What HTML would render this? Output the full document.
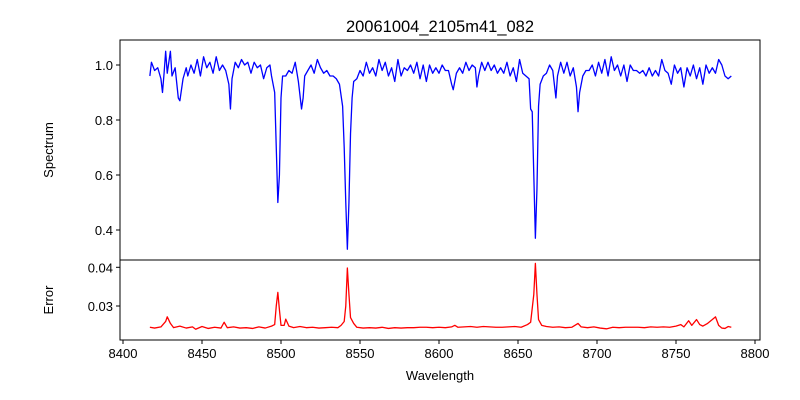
<!DOCTYPE html>
<html><head><meta charset="utf-8"><style>
html,body{margin:0;background:#fff;overflow:hidden;width:800px;height:400px}
svg{font-family:"Liberation Sans","DejaVu Sans",sans-serif;display:block}
</style></head><body>
<svg id="chart" width="800" height="400"></svg>
<script>
const specWl=[8417,8418,8420,8422,8424,8425,8426,8427,8428,8430,8431,8433,8435,8436,8438,8440,8441,8443,8445,8447,8449,8451,8453,8455,8457,8459,8461,8463,8465,8467,8468,8469,8471,8473,8475,8477,8479,8481,8483,8485,8487,8489,8491,8493,8494,8496,8497,8498,8499,8500,8501,8503,8505,8507,8509,8511,8513,8514,8515,8517,8519,8521,8523,8525,8527,8529,8531,8533,8535,8537,8539,8540,8541,8542,8543,8544,8545,8546,8548,8550,8552,8554,8556,8558,8560,8562,8564,8566,8568,8570,8572,8574,8576,8578,8580,8582,8584,8586,8588,8590,8592,8594,8596,8598,8600,8602,8604,8606,8608,8609,8611,8613,8615,8617,8619,8621,8623,8624,8625,8627,8629,8631,8633,8635,8637,8639,8641,8643,8645,8647,8649,8651,8653,8655,8657,8658,8659,8660,8661,8662,8663,8664,8666,8668,8670,8672,8674,8675,8677,8679,8681,8683,8685,8687,8688,8689,8691,8693,8695,8697,8699,8701,8703,8705,8707,8709,8711,8713,8715,8717,8719,8721,8723,8725,8727,8729,8731,8733,8735,8737,8739,8741,8743,8745,8747,8749,8751,8753,8755,8757,8759,8761,8763,8765,8767,8769,8771,8773,8775,8777,8779,8781,8783,8785];
const specFlux=[0.96,1.01,0.98,0.99,0.95,0.90,0.97,1.05,0.97,1.05,0.96,0.99,0.88,0.87,0.95,0.99,0.96,1.00,0.97,1.02,0.96,1.03,0.99,1.01,0.97,1.03,0.98,1.00,0.98,0.93,0.84,0.95,1.01,0.99,1.02,1.00,1.01,0.97,1.01,0.99,1.00,0.95,0.99,1.00,0.96,0.90,0.70,0.50,0.60,0.88,0.96,0.96,0.98,0.97,1.01,0.94,0.84,0.88,0.96,0.98,1.00,0.97,1.02,0.99,0.97,0.98,0.96,0.96,0.95,0.93,0.85,0.70,0.50,0.33,0.50,0.75,0.88,0.94,0.95,0.98,0.96,1.01,0.97,0.99,0.96,1.02,0.98,1.01,0.96,0.99,0.94,1.02,0.96,0.99,0.98,1.00,0.97,1.01,0.95,1.00,0.94,1.00,0.97,0.99,0.97,1.00,0.98,0.98,0.93,0.91,0.97,0.99,0.97,1.01,0.98,1.00,0.99,0.92,0.96,1.01,0.98,1.01,0.98,1.00,0.97,0.99,0.97,1.01,0.96,0.99,0.94,1.02,0.97,0.96,0.95,0.84,0.83,0.60,0.37,0.55,0.85,0.93,0.96,0.97,1.00,0.98,0.88,0.96,1.01,0.97,1.01,0.96,0.99,0.92,0.83,0.90,0.96,0.98,0.98,1.00,0.96,1.01,0.97,1.02,0.96,1.03,0.98,1.00,0.96,1.00,0.94,1.00,0.98,0.98,0.97,0.98,0.96,0.99,0.96,0.98,0.96,1.02,0.98,0.97,0.93,1.00,0.97,0.99,0.92,0.99,0.96,1.00,0.95,0.99,0.93,1.00,0.97,0.99,0.97,1.02,1.00,0.96,0.95,0.96];
const errWl=[8417,8420,8424,8427,8428,8430,8432,8436,8440,8444,8446,8450,8454,8458,8462,8464,8466,8470,8474,8478,8482,8486,8490,8494,8496,8497,8498,8499,8500,8502,8503,8505,8508,8512,8516,8520,8524,8528,8532,8536,8538,8540,8541,8542,8543,8544,8546,8548,8552,8556,8560,8564,8568,8572,8576,8580,8584,8588,8592,8596,8600,8604,8608,8610,8612,8616,8620,8624,8628,8632,8636,8640,8644,8648,8652,8656,8658,8660,8661,8662,8663,8665,8668,8672,8676,8680,8684,8688,8690,8694,8698,8702,8706,8710,8714,8718,8722,8726,8730,8734,8738,8742,8746,8750,8753,8755,8758,8760,8763,8765,8767,8770,8773,8775,8777,8779,8781,8783,8785];
const errVal=[.0245,.0243,.0246,.0260,.0272,.0255,.0244,.0248,.0243,.0246,.0240,.0247,.0242,.0245,.0243,.0258,.0244,.0246,.0243,.0244,.0242,.0246,.0243,.0248,.0252,.0300,.0335,.0290,.0250,.0250,.0266,.0248,.0244,.0247,.0244,.0245,.0243,.0244,.0245,.0244,.0250,.0260,.0300,.0398,.0330,.0270,.0255,.0245,.0243,.0244,.0243,.0245,.0242,.0244,.0243,.0244,.0244,.0245,.0245,.0244,.0245,.0244,.0246,.0250,.0245,.0246,.0247,.0245,.0247,.0246,.0245,.0245,.0246,.0247,.0245,.0252,.0258,.0330,.0410,.0330,.0265,.0250,.0247,.0245,.0246,.0244,.0245,.0255,.0246,.0244,.0246,.0243,.0241,.0245,.0244,.0245,.0245,.0245,.0244,.0246,.0245,.0246,.0245,.0248,.0252,.0246,.0262,.0250,.0265,.0252,.0248,.0255,.0265,.0272,.0250,.0243,.0242,.0247,.0245];
const xTicks=[8400,8450,8500,8550,8600,8650,8700,8750,8800];
const specTicks=[0.4,0.6,0.8,1.0];
const errTicks=[0.03,0.04];

const NS="http://www.w3.org/2000/svg";
const svg=document.getElementById('chart');
const L=120,R=760,T=40,M=260,B=340;
const x=w=>123+(w-8400)*1.58;
const yS=v=>65+(1.0-v)*275;
const yE=v=>306-(v-0.03)*3870;
function el(tag,attrs,parent){const e=document.createElementNS(NS,tag);for(const k in attrs)e.setAttribute(k,attrs[k]);(parent||svg).appendChild(e);return e;}
function txt(s,attrs){const t=el('text',attrs);t.textContent=s;return t;}

let d=specWl.map((w,i)=>(i?'L':'M')+x(w).toFixed(2)+','+yS(specFlux[i]).toFixed(2)).join('');
const sp=el('path',{d:d,fill:'none',stroke:'#0000ff','stroke-width':1.3,'stroke-linejoin':'round'});


d=errWl.map((w,i)=>(i?'L':'M')+x(w).toFixed(2)+','+yE(errVal[i]).toFixed(2)).join('');
const ep=el('path',{d:d,fill:'none',stroke:'#ff0000','stroke-width':1.3,'stroke-linejoin':'round'});



const f1=el('rect',{x:L,y:T,width:R-L,height:M-T,fill:'none',stroke:'#000','stroke-width':1});


const f2=el('rect',{x:L,y:M,width:R-L,height:B-M,fill:'none',stroke:'#000','stroke-width':1});



xTicks.forEach(v=>{
  el('line',{x1:x(v),x2:x(v),y1:B,y2:B+4,stroke:'#000'});
  const t=txt(v,{x:x(v),y:B+18,'font-size':13,'text-anchor':'middle'});
  
  
});
specTicks.forEach(v=>{
  el('line',{x1:L-4,x2:L,y1:yS(v),y2:yS(v),stroke:'#000'});
  const t=txt(v.toFixed(1),{x:L-7,y:yS(v)+5,'font-size':13,'text-anchor':'end'});
  
  
});
errTicks.forEach(v=>{
  el('line',{x1:L-4,x2:L,y1:yE(v),y2:yE(v),stroke:'#000'});
  const t=txt(v.toFixed(2),{x:L-7,y:yE(v)+5,'font-size':13,'text-anchor':'end'});
  
  
});

function lbl(s,a,name){const e=document.createElementNS(NS,'text');for(const k in a)e.setAttribute(k,a[k]);e.textContent=s;


svg.appendChild(e);}
lbl('20061004_2105m41_082',{x:440,y:32,'font-size':16.5,'text-anchor':'middle'},'chart-title');
lbl('Wavelength',{x:440,y:380,'font-size':13,'text-anchor':'middle'},'x-axis-title');
lbl('Spectrum',{x:53,y:150,'font-size':13,'text-anchor':'middle',transform:'rotate(-90 53 150)'},'spectrum-y-axis-title');
lbl('Error',{x:53,y:300,'font-size':13,'text-anchor':'middle',transform:'rotate(-90 53 300)'},'error-y-axis-title');
</script>
</body></html>
